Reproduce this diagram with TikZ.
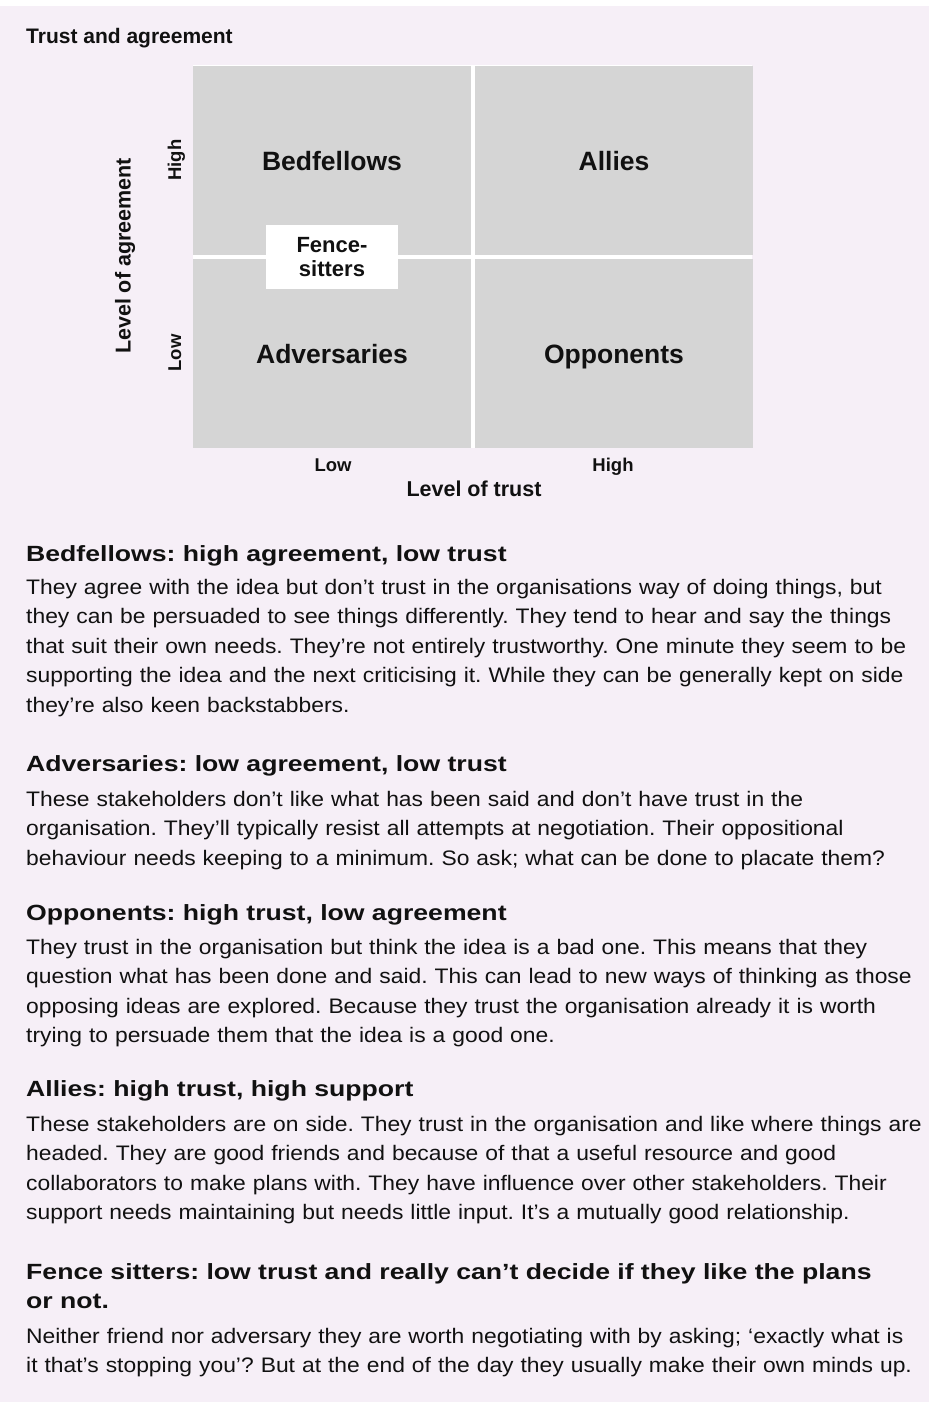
\documentclass[tikz,border=0pt]{standalone}
\usepackage{fontspec}
\setmainfont{Liberation Sans}
\newfontfamily\bodyfont{Liberation Sans}[FakeStretch=1.088]
\newfontfamily\headfont{Liberation Sans}[FakeStretch=1.21]
\usepackage{tikz}
\usetikzlibrary{positioning}
\frenchspacing
\definecolor{pagebg}{RGB}{246,239,247}
\definecolor{quadgray}{RGB}{213,213,213}
\definecolor{inkblack}{RGB}{17,17,17}
\tikzset{%
	quadrant/.style={
		fill=quadgray,
		minimum width=277.5pt,
		minimum height=189pt,
		inner sep=0pt,
		text height=20pt,
		text depth=0pt,
		font=\fontsize{26.5}{30}\selectfont\bfseries
	},
	fence box/.style={
		fill=white,
		minimum width=132pt,
		minimum height=64pt,
		inner sep=0pt,
		align=center,
		font=\fontsize{22}{24}\selectfont\bfseries
	},
	axis tick/.style={
		inner sep=0pt,
		text height=14pt,
		text depth=4pt,
		font=\fontsize{18.5}{20}\selectfont\bfseries
	},
	axis title/.style={
		inner sep=0pt,
		font=\fontsize{21.5}{24}\selectfont\bfseries
	},
	heading/.style={
		anchor=base west,
		inner sep=0pt,
		text width=920pt,
		align=left,
		font=\headfont\bfseries\fontsize{22}{29}\selectfont
	},
	body/.style={
		anchor=base west,
		inner sep=0pt,
		text width=920pt,
		align=left,
		font=\bodyfont\fontsize{21}{29.6}\selectfont
	},
}

\begin{document}
\begin{tikzpicture}[x=1pt, y=-1pt, text=inkblack]

	\useasboundingbox (0,0) rectangle (929,1402);
	\fill [pagebg] (0,6) rectangle (929,1402);

	\node [anchor=base west, inner sep=0pt, font=\fontsize{21}{24}\selectfont\bfseries]
	(title) at (26,44) {Trust and agreement};

	% the grid, white shows through the gaps
	\fill [white] (193,65) rectangle (752,448);
	\foreach \n/\l/\x/\y in {bed/Bedfellows/332/160.5, all/Allies/614/160.5,
		adv/Adversaries/332/353.5, opp/Opponents/614/353.5}
	\node [quadrant] (quad-\n) at (\x,\y) {\l};

	\node [fence box] (fence) at (332,257) {Fence-\\sitters};

	\foreach \l/\y in {High/160, Low/353}
	\node [axis tick, rotate=90] (agree-\l) at (176,\y) {\l};

	\foreach \l/\x in {Low/333, High/613}
	\node [axis tick, anchor=base] (trust-\l) at (\x,471) {\l};

	\node [axis title, rotate=90] (agree-title) at (125,256) {Level of agreement};
	\node [axis title] (trust-title) at (474,489) {Level of trust};

	% the five descriptions
	\node [heading] (head-bed) at (26,561) {Bedfellows: high agreement, low trust};
	\node [body] (text-bed) at (26,594) {They agree with the idea but don’t trust in the organisations way of doing things, but\\
		they can be persuaded to see things differently. They tend to hear and say the things\\
		that suit their own needs. They’re not entirely trustworthy. One minute they seem to be\\
		supporting the idea and the next criticising it. While they can be generally kept on side\\
		they’re also keen backstabbers.};

	\node [heading] (head-adv) at (26,771) {Adversaries: low agreement, low trust};
	\node [body] (text-adv) at (26,806) {These stakeholders don’t like what has been said and don’t have trust in the\\
		organisation. They’ll typically resist all attempts at negotiation. Their oppositional\\
		behaviour needs keeping to a minimum. So ask; what can be done to placate them?};

	\node [heading] (head-opp) at (26,920) {Opponents: high trust, low agreement};
	\node [body] (text-opp) at (26,954) {They trust in the organisation but think the idea is a bad one. This means that they\\
		question what has been done and said. This can lead to new ways of thinking as those\\
		opposing ideas are explored. Because they trust the organisation already it is worth\\
		trying to persuade them that the idea is a good one.};

	\node [heading] (head-all) at (26,1096) {Allies: high trust, high support};
	\node [body] (text-all) at (26,1131) {These stakeholders are on side. They trust in the organisation and like where things are\\
		headed. They are good friends and because of that a useful resource and good\\
		collaborators to make plans with. They have influence over other stakeholders. Their\\
		support needs maintaining but needs little input. It’s a mutually good relationship.};

	\node [heading] (head-fen) at (26,1279) {Fence sitters: low trust and really can’t decide if they like the plans\\
		or not.};
	\node [body] (text-fen) at (26,1343) {Neither friend nor adversary they are worth negotiating with by asking; ‘exactly what is\\
		it that’s stopping you’? But at the end of the day they usually make their own minds up.};

\end{tikzpicture}
\end{document}
